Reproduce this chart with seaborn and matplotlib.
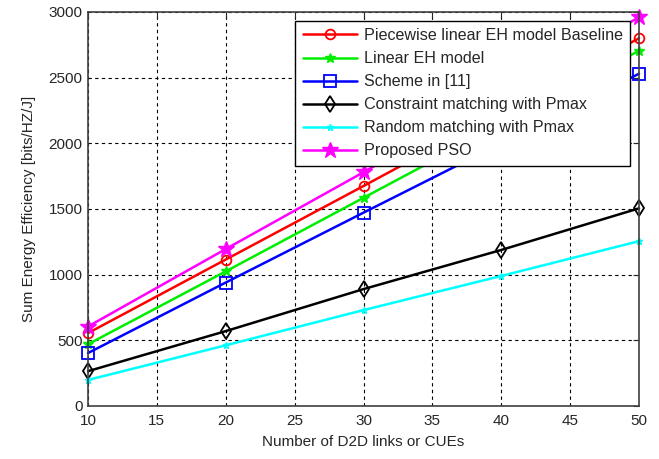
import numpy as np
import pandas as pd
import matplotlib
matplotlib.use('Agg')
import matplotlib.pyplot as plt
import seaborn as sns

# data
n_links = [10, 20, 30, 40, 50]
piecewise = [555, 1115, 1675, 2240, 2800]
linear_eh = [470, 1025, 1585, 2145, 2705]
scheme11 = [403, 940, 1472, 2000, 2530]
constraint = [265, 570, 890, 1188, 1505]
random_m = [198, 462, 730, 990, 1255]
pso = [605, 1195, 1780, 2370, 2960]

labels = ['Piecewise linear EH model Baseline', 'Linear EH model', 'Scheme in [11]',
          'Constraint matching with Pmax', 'Random matching with Pmax', 'Proposed PSO']
series = [piecewise, linear_eh, scheme11, constraint, random_m, pso]

sns.set_style('white')
plt.rcParams['font.family'] = ['Liberation Sans', 'DejaVu Sans']

fig = plt.figure(figsize=(6.59, 4.59), dpi=100)
ax = fig.add_axes([0.1335, 0.1155, 0.8362, 0.8584])

styles = [
    dict(color='#ff0000', marker='o', markersize=7, markerfacecolor='none', markeredgewidth=1.3),
    dict(color='#00ee00', marker='*', markersize=7, markerfacecolor='#00ee00', markeredgewidth=1),
    dict(color='#0000ff', marker='s', markersize=8, markerfacecolor='none', markeredgewidth=1.3),
    dict(color='#000000', marker='d', markersize=8, markerfacecolor='none', markeredgewidth=1.3),
    dict(color='#00ffff', marker='*', markersize=5, markerfacecolor='#00ffff', markeredgewidth=1),
    dict(color='#ff00ff', marker='*', markersize=12, markerfacecolor='#ff00ff', markeredgewidth=1),
]

for vals, lab, st in zip(series, labels, styles):
    df = pd.DataFrame({'x': n_links, 'y': vals})
    sns.lineplot(data=df, x='x', y='y', ax=ax, label=lab, linewidth=1.8,
                 markeredgecolor=st['color'], clip_on=False, **st)

ax.set_xlim(10, 50)
ax.set_ylim(0, 3000)
ax.set_xticks(np.arange(10, 51, 5))
ax.set_yticks(np.arange(0, 3001, 500))
ax.grid(True, color='black', linestyle=(0, (3, 3)), linewidth=0.8)
ax.tick_params(direction='in', top=True, right=True, length=4, labelsize=11, colors='#262626')
ax.tick_params(axis='x', pad=6)
ax.tick_params(axis='y', pad=4)
for sp in ax.spines.values():
    sp.set_color('#404040')
    sp.set_linewidth(1.2)

ax.set_xlabel('Number of D2D links or CUEs', fontsize=11, color='#262626', labelpad=5)
ax.set_ylabel('Sum Energy Efficiency [bits/HZ/J]', fontsize=11, color='#262626', labelpad=9)

leg = ax.legend(loc='upper right', fontsize=11.6, frameon=True, fancybox=False, framealpha=1,
                handlelength=3.4, labelspacing=0.5, borderaxespad=0.55, borderpad=0.45,
                handletextpad=0.4)
leg.get_frame().set_edgecolor('black')
leg.get_frame().set_linewidth(1)
leg.set_zorder(10)

fig.savefig('out.png', dpi=100)
